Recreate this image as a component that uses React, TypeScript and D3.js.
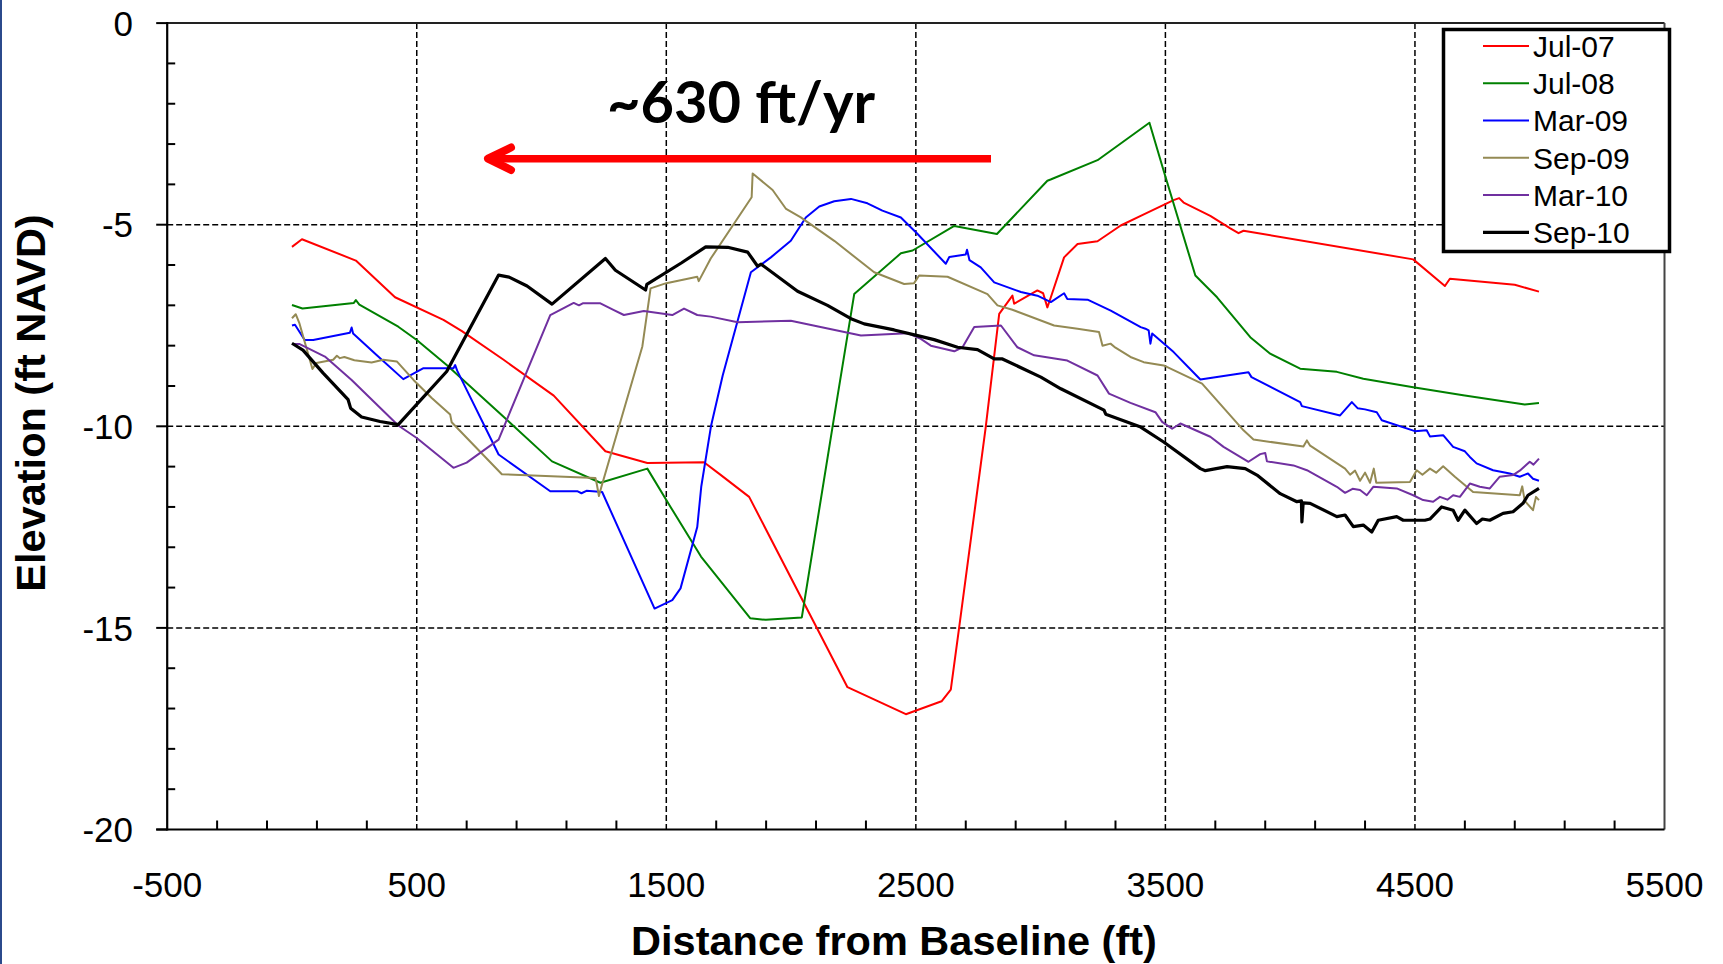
import React from 'react';
import * as d3 from 'd3';

type Pt = [number, number];

const seriesNames = ['Jul-07', 'Jul-08', 'Mar-09', 'Sep-09', 'Mar-10', 'Sep-10'];
const seriesColors = ['#FF0000', '#008000', '#0000FF', '#948A54', '#7030A0', '#000000'];
const seriesWidths = [2, 2, 2, 2, 2, 3.2];

const jul07: Pt[] = [
  [0, -5.55], [40, -5.36], [256, -5.89], [413, -6.8], [607, -7.36], [681, -7.64], [848, -8.35], [1049, -9.24],
  [1256, -10.62], [1424, -10.91], [1651, -10.89], [1719, -11.21], [1832, -11.75], [2226, -16.47], [2460, -17.14],
  [2603, -16.82], [2640, -16.53], [2674, -14.97], [2780, -10.02], [2834, -7.21], [2887, -6.76], [2894, -6.96],
  [2987, -6.63], [3010, -6.7], [3027, -7.05], [3041, -6.8], [3094, -5.81], [3148, -5.48], [3228, -5.41],
  [3321, -5.02], [3401, -4.78], [3533, -4.39], [3555, -4.34], [3573, -4.45], [3680, -4.78], [3760, -5.09],
  [3793, -5.21], [3813, -5.15], [4493, -5.86], [4620, -6.52], [4640, -6.34], [4900, -6.49], [4997, -6.66],
];

const jul08: Pt[] = [
  [0, -6.99], [42, -7.08], [248, -6.94], [256, -6.87], [270, -6.98], [426, -7.53], [500, -7.86], [620, -8.48],
  [861, -9.84], [1042, -10.87], [1236, -11.4], [1424, -11.05], [1517, -12.0], [1639, -13.23], [1836, -14.76],
  [1899, -14.8], [2043, -14.74], [2166, -10.02], [2253, -6.72], [2440, -5.71], [2487, -5.64], [2654, -5.03],
  [2825, -5.23], [3027, -3.91], [3040, -3.88], [3228, -3.4], [3436, -2.47], [3493, -3.66], [3620, -6.26],
  [3707, -6.8], [3840, -7.79], [3920, -8.2], [4040, -8.57], [4187, -8.65], [4293, -8.82], [4493, -9.03],
  [4693, -9.23], [4940, -9.46], [4997, -9.42],
];

const mar09: Pt[] = [
  [0, -7.5], [12, -7.48], [51, -7.86], [85, -7.86], [232, -7.68], [239, -7.55], [245, -7.7], [339, -8.23],
  [446, -8.83], [527, -8.56], [647, -8.56], [654, -8.48], [662, -8.62], [828, -10.7], [1035, -11.61],
  [1143, -11.61], [1160, -11.66], [1180, -11.6], [1243, -11.63], [1453, -14.52], [1524, -14.31], [1557, -14.02],
  [1624, -12.5], [1640, -11.5], [1679, -10.0], [1726, -8.74], [1839, -6.18], [1919, -5.81], [1999, -5.4],
  [2059, -4.82], [2113, -4.55], [2173, -4.42], [2240, -4.36], [2306, -4.47], [2366, -4.65], [2440, -4.82],
  [2507, -5.23], [2620, -5.97], [2634, -5.8], [2700, -5.74], [2705, -5.62], [2715, -5.88], [2760, -6.06],
  [2814, -6.43], [2921, -6.67], [2987, -6.76], [3041, -6.92], [3094, -6.7], [3107, -6.84], [3188, -6.86],
  [3281, -7.13], [3401, -7.54], [3420, -7.58], [3433, -7.62], [3440, -7.95], [3447, -7.7], [3533, -8.16],
  [3640, -8.84], [3833, -8.66], [3845, -8.78], [4040, -9.4], [4047, -9.5], [4200, -9.73], [4247, -9.4],
  [4270, -9.55], [4300, -9.58], [4347, -9.65], [4367, -9.85], [4500, -10.12], [4547, -10.1], [4560, -10.25],
  [4613, -10.22], [4653, -10.51], [4700, -10.62], [4720, -10.76], [4747, -10.92], [4813, -11.09],
  [4880, -11.17], [4920, -11.25], [4953, -11.17], [4973, -11.3], [4997, -11.35],
];

const sep09: Pt[] = [
  [0, -7.32], [15, -7.22], [30, -7.45], [82, -8.58], [98, -8.43], [165, -8.35], [180, -8.25], [192, -8.31],
  [210, -8.28], [250, -8.36], [319, -8.42], [366, -8.35], [420, -8.39], [487, -8.85], [560, -9.3], [634, -9.71],
  [640, -9.9], [841, -11.19], [1216, -11.28], [1222, -11.45], [1230, -11.73], [1240, -11.5], [1404, -8.02],
  [1437, -6.58], [1500, -6.45], [1624, -6.29], [1630, -6.4], [1678, -5.84], [1842, -4.32], [1846, -3.73],
  [1926, -4.14], [1980, -4.61], [2039, -4.82], [2173, -5.4], [2333, -6.18], [2453, -6.47], [2493, -6.45],
  [2513, -6.26], [2627, -6.29], [2787, -6.72], [2827, -7.0], [2887, -7.11], [3054, -7.5], [3148, -7.58],
  [3234, -7.66], [3248, -8.0], [3280, -7.95], [3300, -8.05], [3360, -8.28], [3413, -8.41], [3493, -8.49],
  [3647, -8.94], [3813, -10.1], [3853, -10.33], [4053, -10.5], [4067, -10.35], [4080, -10.48], [4220, -11.05],
  [4240, -11.2], [4260, -11.1], [4280, -11.35], [4300, -11.15], [4320, -11.4], [4335, -11.05], [4345, -11.4],
  [4480, -11.38], [4507, -11.09], [4530, -11.2], [4560, -11.05], [4585, -11.15], [4613, -10.99], [4660, -11.25],
  [4733, -11.63], [4920, -11.71], [4930, -11.49], [4940, -11.85], [4973, -12.08], [4985, -11.75], [4997, -11.83],
];

const mar10: Pt[] = [
  [0, -7.96], [31, -7.96], [132, -8.27], [239, -8.85], [426, -9.98], [500, -10.29], [647, -11.03], [700, -10.9],
  [828, -10.33], [1035, -7.24], [1129, -6.94], [1150, -7.0], [1165, -6.95], [1236, -6.95], [1290, -7.12],
  [1330, -7.24], [1410, -7.14], [1524, -7.24], [1571, -7.08], [1624, -7.24], [1678, -7.28], [1786, -7.42],
  [1999, -7.38], [2280, -7.75], [2467, -7.69], [2520, -7.83], [2560, -8.0], [2654, -8.14], [2687, -8.04],
  [2734, -7.54], [2841, -7.5], [2907, -8.04], [2974, -8.24], [3107, -8.37], [3228, -8.74], [3274, -9.19],
  [3360, -9.42], [3460, -9.65], [3487, -9.89], [3527, -10.06], [3560, -9.93], [3680, -10.26], [3733, -10.51],
  [3833, -10.88], [3880, -10.69], [3900, -10.66], [3907, -10.87], [4013, -10.97], [4067, -11.09], [4187, -11.5],
  [4220, -11.65], [4250, -11.55], [4280, -11.58], [4307, -11.71], [4333, -11.5], [4427, -11.54], [4493, -11.71],
  [4533, -11.83], [4573, -11.87], [4600, -11.75], [4630, -11.82], [4653, -11.71], [4680, -11.75], [4720, -11.42],
  [4760, -11.5], [4800, -11.54], [4840, -11.25], [4893, -11.21], [4920, -11.1], [4960, -10.88], [4975, -10.95],
  [4997, -10.8],
];

const sep10: Pt[] = [
  [0, -7.94], [44, -8.11], [125, -8.68], [225, -9.34], [235, -9.55], [279, -9.77], [353, -9.88], [426, -9.96],
  [620, -8.64], [828, -6.25], [870, -6.3], [942, -6.52], [1042, -6.97], [1256, -5.84], [1296, -6.13],
  [1417, -6.62], [1422, -6.48], [1560, -5.95], [1658, -5.55], [1746, -5.56], [1826, -5.68], [1866, -6.03],
  [1880, -5.98], [2026, -6.65], [2146, -7.0], [2240, -7.33], [2293, -7.46], [2413, -7.61], [2507, -7.75],
  [2573, -7.85], [2667, -8.04], [2747, -8.1], [2814, -8.33], [2847, -8.33], [3001, -8.78], [3081, -9.07],
  [3254, -9.6], [3261, -9.7], [3401, -10.02], [3493, -10.39], [3640, -11.05], [3660, -11.1], [3747, -11.0],
  [3820, -11.05], [3867, -11.21], [3960, -11.67], [4027, -11.87], [4045, -11.85], [4047, -12.37], [4052, -11.9],
  [4080, -11.91], [4187, -12.24], [4220, -12.2], [4253, -12.49], [4293, -12.45], [4327, -12.62], [4353, -12.33],
  [4427, -12.24], [4453, -12.33], [4540, -12.33], [4560, -12.3], [4607, -12.0], [4653, -12.08], [4673, -12.33],
  [4700, -12.08], [4747, -12.41], [4770, -12.3], [4800, -12.33], [4853, -12.16], [4893, -12.12], [4933, -11.91],
  [4953, -11.71], [4997, -11.54],
];

const allSeries: Pt[][] = [jul07, jul08, mar09, sep09, mar10, sep10];

const xTickValues = [-500, 500, 1500, 2500, 3500, 4500, 5500];
const yTickValues = [0, -5, -10, -15, -20];
const xGridValues = [500, 1500, 2500, 3500, 4500];
const yGridValues = [-5, -10, -15];

const annotationText = '~630 ft/yr';
const xTitle = 'Distance from Baseline (ft)';
const yTitle = 'Elevation (ft NAVD)';

const W = 1723;
const H = 964;
const L = 167.2, R = 1664.5, T = 23.1, B = 829.5;

export default function App() {
  const x = d3.scaleLinear().domain([-500, 5500]).range([L, R]);
  const y = d3.scaleLinear().domain([-20, 0]).range([B, T]);
  const line = d3.line<Pt>().x((d) => x(d[0])).y((d) => y(d[1]));

  const xMinor = d3.range(-300, 5500, 200).filter((v) => !xTickValues.includes(v));
  const yMinor = d3.range(-19, 0, 1).filter((v) => !yTickValues.includes(v));

  const axisFont = '"Liberation Sans", Arial, sans-serif';

  const legX = 1443.5, legY = 29.5, legW = 226, legH = 222;

  return (
    <svg width={W} height={H} style={{ position: 'absolute', left: 0, top: 0, background: '#fff' }}>
      <rect x={0} y={0} width={W} height={H} fill="#ffffff" />
      <rect x={0} y={0} width={2} height={H} fill="#2B4A8C" />

      {/* grid */}
      {xGridValues.map((v) => (
        <line key={'gx' + v} x1={x(v)} x2={x(v)} y1={T} y2={B} stroke="#000" strokeWidth={1.5} strokeDasharray="6,3" />
      ))}
      {yGridValues.map((v) => (
        <line key={'gy' + v} x1={L} x2={R} y1={y(v)} y2={y(v)} stroke="#000" strokeWidth={1.5} strokeDasharray="6,3" />
      ))}

      {/* plot border top/right */}
      <line x1={L} x2={R} y1={T} y2={T} stroke="#222" strokeWidth={2} />
      <line x1={R} x2={R} y1={T} y2={B} stroke="#444" strokeWidth={2} />

      {/* series */}
      {allSeries.map((s, i) => (
        <path key={seriesNames[i]} d={line(s) || ''} fill="none" stroke={seriesColors[i]} strokeWidth={seriesWidths[i]} strokeLinejoin="round" />
      ))}

      {/* axes */}
      <line x1={L} x2={L} y1={T - 1} y2={B + 1} stroke="#000" strokeWidth={2.2} />
      <line x1={L - 11} x2={R} y1={B} y2={B} stroke="#000" strokeWidth={2.2} />
      {yTickValues.map((v) => (
        <line key={'ytm' + v} x1={L - 11} x2={L} y1={y(v)} y2={y(v)} stroke="#000" strokeWidth={2} />
      ))}
      {yMinor.map((v) => (
        <line key={'ytn' + v} x1={L} x2={L + 8} y1={y(v)} y2={y(v)} stroke="#000" strokeWidth={2} />
      ))}
      {xMinor.map((v) => (
        <line key={'xtn' + v} x1={x(v)} x2={x(v)} y1={B} y2={B - 9} stroke="#000" strokeWidth={2} />
      ))}

      {/* tick labels */}
      {yTickValues.map((v) => (
        <text key={'yl' + v} x={133} y={y(v)} dy="0.36em" textAnchor="end" fontFamily={axisFont} fontSize={35} fill="#000">
          {String(v)}
        </text>
      ))}
      {xTickValues.map((v) => (
        <text key={'xl' + v} x={x(v)} y={897} textAnchor="middle" fontFamily={axisFont} fontSize={35} fill="#000">
          {String(v)}
        </text>
      ))}

      {/* axis titles */}
      <text x={894} y={955} textAnchor="middle" fontFamily={axisFont} fontWeight="bold" fontSize={41.5} fill="#000">
        {xTitle}
      </text>
      <text transform={`translate(45,403) rotate(-90)`} textAnchor="middle" fontFamily={axisFont} fontWeight="bold" fontSize={41.5} fill="#000">
        {yTitle}
      </text>

      {/* annotation */}
      <text x={607} y={123} fontFamily='Lato, "Open Sans", sans-serif' fontWeight="bold" fontSize={57} fill="#000" textLength={268} lengthAdjust="spacingAndGlyphs">
        {annotationText}
      </text>
      <line x1={492} x2={991} y1={158.7} y2={158.7} stroke="#FF0000" strokeWidth={7.5} />
      <polyline points="511,147.5 488,158.7 511,170" fill="none" stroke="#FF0000" strokeWidth={8} strokeLinecap="round" strokeLinejoin="round" />

      {/* legend */}
      <rect x={legX} y={legY} width={legW} height={legH} fill="#fff" stroke="#000" strokeWidth={3.5} />
      {seriesNames.map((n, i) => {
        const cy = 45.9 + i * 37.3;
        return (
          <g key={'lg' + n}>
            <line x1={1483} x2={1529} y1={cy} y2={cy} stroke={seriesColors[i]} strokeWidth={seriesWidths[i]} />
            <text x={1533} y={cy + 10.8} fontFamily={axisFont} fontSize={30} fill="#000">
              {n}
            </text>
          </g>
        );
      })}
    </svg>
  );
}
